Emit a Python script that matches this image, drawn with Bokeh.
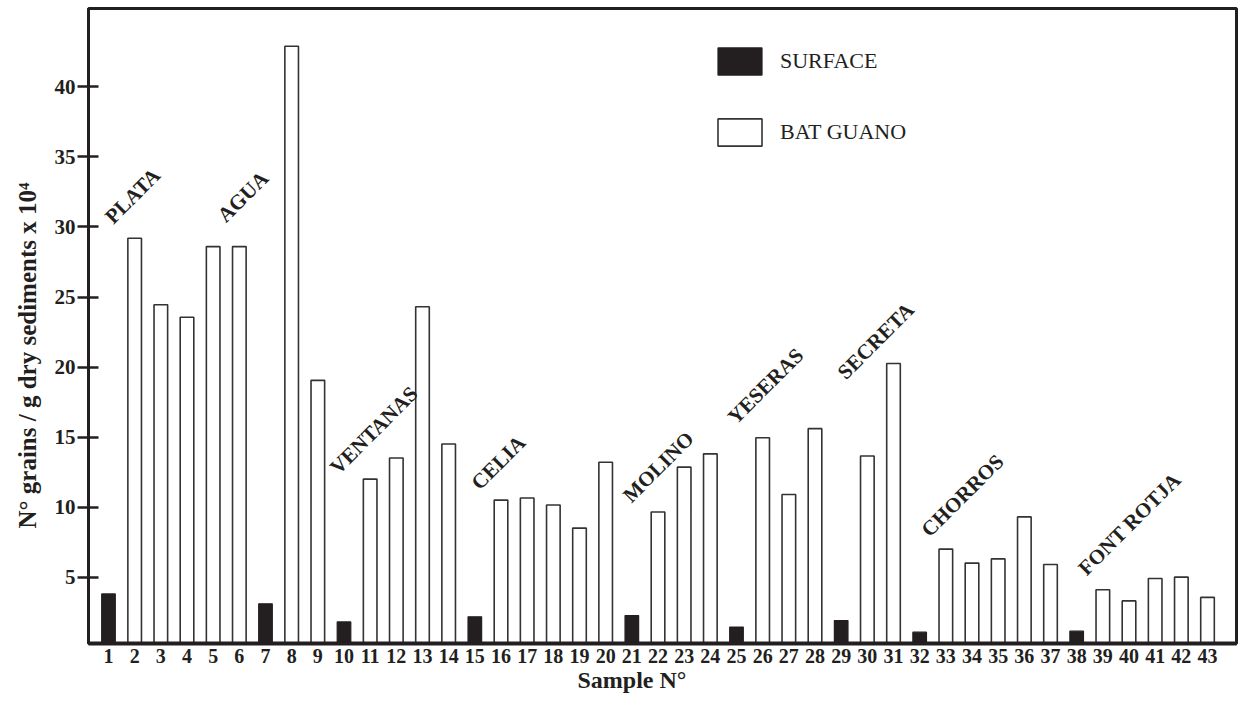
import math
from bokeh.plotting import figure
from bokeh.models import (ColumnDataSource, Range1d, FixedTicker, Title,
                          Legend, LegendItem)
from bokeh.core.properties import value
from bokeh.embed import file_html
from bokeh.resources import INLINE

# ---------------- data ----------------
samples = list(range(1, 44))
grains = [3.8, 29.2, 24.45, 23.55, 28.6, 28.6, 3.1, 42.9, 19.05, 1.8,
          12.0, 13.5, 24.3, 14.5, 2.17, 10.5, 10.65, 10.15, 8.5, 13.2,
          2.26, 9.65, 12.85, 13.8, 1.43, 14.95, 10.9, 15.6, 1.9, 13.65,
          20.25, 1.07, 7.0, 6.0, 6.3, 9.3, 5.9, 1.14, 4.1, 3.3,
          4.9, 5.0, 3.55]
surface_samples = [1, 7, 10, 15, 21, 25, 29, 32, 38]
y_ticks = [5, 10, 15, 20, 25, 30, 35, 40]

cave_names = ["PLATA", "AGUA", "VENTANAS", "CELIA", "MOLINO", "YESERAS",
              "SECRETA", "CHORROS", "FONT ROTJA"]
cave_label_x = [1.0, 5.3, 9.6, 15.0, 20.8, 24.8, 29.0, 32.2, 38.2]
cave_label_y = [30.5, 30.6, 12.6, 11.5, 10.6, 16.2, 19.4, 8.15, 5.4]

surf_x = [s for s in samples if s in surface_samples]
surf_y = [g for s, g in zip(samples, grains) if s in surface_samples]
guano_x = [s for s in samples if s not in surface_samples]
guano_y = [g for s, g in zip(samples, grains) if s not in surface_samples]

FONT = "Liberation Serif"
INK = "#231f20"

p = figure(width=1240, height=704, output_backend="svg", toolbar_location=None,
           x_range=Range1d(0.236, 44.108), y_range=Range1d(0.26, 45.6),
           min_border_left=88, min_border_right=4, min_border_top=8,
           min_border_bottom=61)
p.background_fill_color = "white"
p.border_fill_color = "white"
p.outline_line_color = INK
p.outline_line_width = 3
p.xgrid.visible = False
p.ygrid.visible = False

r_surf = p.vbar(x=surf_x, top=surf_y, bottom=0, width=0.52,
                fill_color=INK, line_color=INK, line_width=1.2)
r_guano = p.vbar(x=guano_x, top=guano_y, bottom=0, width=0.52,
                 fill_color="white", line_color="#333333", line_width=1.6)

# cave labels
src = ColumnDataSource(dict(x=cave_label_x, y=cave_label_y, t=cave_names))
p.text(x="x", y="y", text="t", source=src, angle=math.pi / 4,
       text_align="left", text_baseline="alphabetic",
       text_font=value(FONT), text_font_style="bold",
       text_font_size="21px", text_color=INK)

# axes
xa = p.xaxis[0]
xa.ticker = FixedTicker(ticks=samples)
xa.major_tick_in = 0
xa.major_tick_out = 0
xa.minor_tick_in = 0
xa.minor_tick_out = 0
xa.axis_line_width = 4
xa.axis_line_color = INK
xa.major_label_standoff = 5
xa.major_label_text_font = FONT
xa.major_label_text_font_style = "bold"
xa.major_label_text_font_size = "20px"
xa.major_label_text_color = INK

ya = p.yaxis[0]
ya.ticker = FixedTicker(ticks=y_ticks)
ya.major_tick_in = 10
ya.major_tick_out = 11
ya.major_tick_line_width = 2.5
ya.major_tick_line_color = INK
ya.minor_tick_in = 0
ya.minor_tick_out = 0
ya.axis_line_width = 3
ya.axis_line_color = INK
ya.major_label_standoff = 2
ya.major_label_text_font = FONT
ya.major_label_text_font_style = "bold"
ya.major_label_text_font_size = "21px"
ya.major_label_text_color = INK

# axis titles as side titles (so they can be placed off-centre like the original)
p.add_layout(Title(text="N° grains / g dry sediments x 10⁴", align="left",
                   offset=115, vertical_align="middle", standoff=20,
                   text_font=FONT, text_font_style="bold",
                   text_font_size="25px", text_color=INK), "left")
p.add_layout(Title(text="Sample N°", align="left", offset=489,
                   vertical_align="top", standoff=2,
                   text_font=FONT, text_font_style="bold",
                   text_font_size="24px", text_color=INK), "below")

# legend
legend = Legend(items=[LegendItem(label="SURFACE", renderers=[r_surf]),
                       LegendItem(label="BAT GUANO", renderers=[r_guano])],
                location=(624, 494), orientation="vertical",
                glyph_width=55, glyph_height=34, label_standoff=13,
                spacing=37, padding=0, margin=0,
                border_line_alpha=0, background_fill_alpha=0,
                label_text_font=FONT, label_text_font_size="22px",
                label_text_color=INK, label_text_baseline="middle")
p.add_layout(legend)

open("out.html", "w").write(file_html(p, INLINE))
